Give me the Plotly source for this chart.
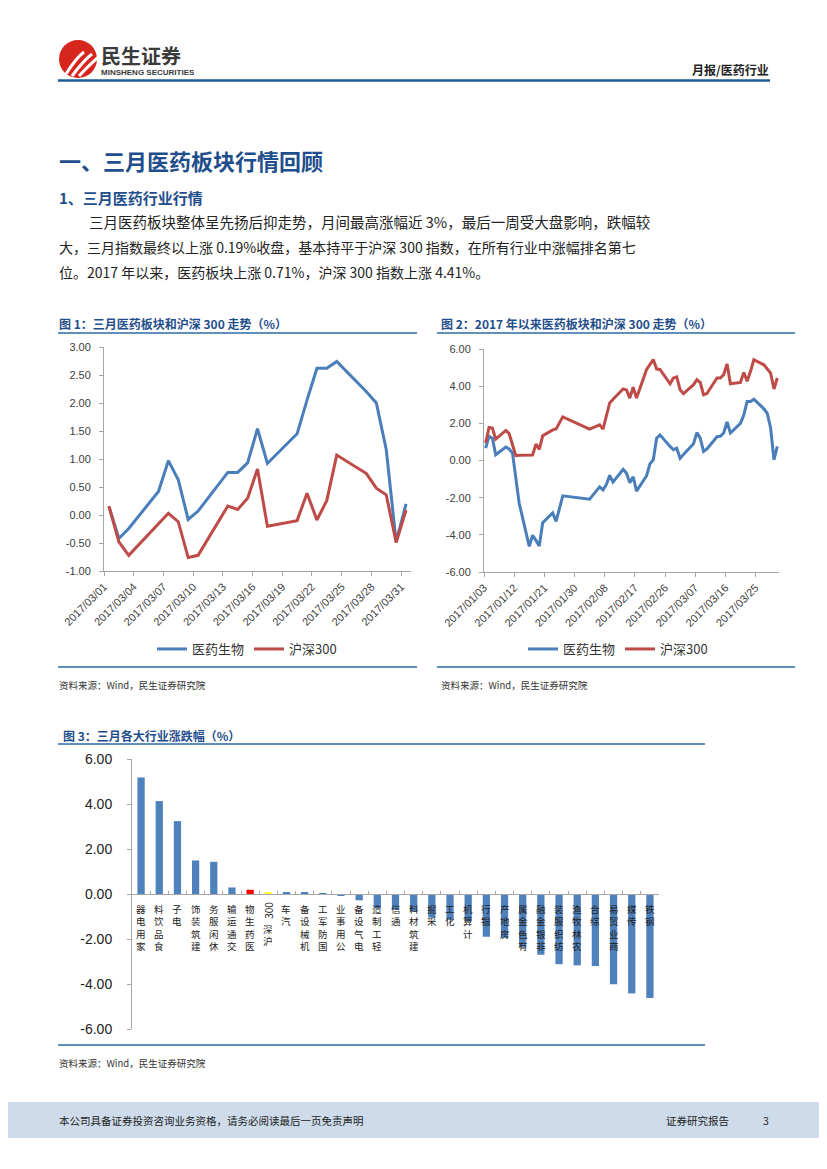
import plotly.graph_objects as go
import pandas as pd

W, H = 827, 1169
OFF = 8  # page body margin of the hosting html


def px(x):
    return (x - OFF) / W


def py(y):
    return 1 - (y - OFF) / H


CJK = "Noto Sans CJK SC"
BLUE_LINE = "#4A7EBB"
RED_LINE = "#BE4B48"
BAR_BLUE = "#4F81BD"
NAVY = "#1F4E8C"
RULE = "#2B6AA6"
AXIS = "#A6A6A6"

# ---------------- data ----------------
mar_dates = ["2017-03-01", "2017-03-02", "2017-03-03", "2017-03-06", "2017-03-07",
             "2017-03-08", "2017-03-09", "2017-03-10", "2017-03-13", "2017-03-14",
             "2017-03-15", "2017-03-16", "2017-03-17", "2017-03-20", "2017-03-21",
             "2017-03-22", "2017-03-23", "2017-03-24", "2017-03-27", "2017-03-28",
             "2017-03-29", "2017-03-30", "2017-03-31"]
mar_pharma = [0.15, -0.42, -0.24, 0.42, 0.97, 0.63, -0.08, 0.07, 0.76, 0.76,
              0.93, 1.54, 0.92, 1.45, 2.05, 2.62, 2.62, 2.74, 2.20, 2.00,
              1.17, -0.48, 0.20]
mar_hs300 = [0.16, -0.48, -0.72, -0.17, 0.03, -0.12, -0.76, -0.72, 0.16, 0.10,
             0.30, 0.82, -0.20, -0.10, 0.39, -0.09, 0.26, 1.07, 0.74, 0.48,
             0.36, -0.49, 0.09]

ytd_dates = ["2017-01-03", "2017-01-04", "2017-01-05", "2017-01-06", "2017-01-09",
             "2017-01-10", "2017-01-11", "2017-01-12", "2017-01-13", "2017-01-16",
             "2017-01-17", "2017-01-18", "2017-01-19", "2017-01-20", "2017-01-23",
             "2017-01-24", "2017-01-25", "2017-01-26",
             "2017-02-03", "2017-02-06", "2017-02-07", "2017-02-08", "2017-02-09",
             "2017-02-10", "2017-02-13", "2017-02-14", "2017-02-15", "2017-02-16",
             "2017-02-17", "2017-02-20", "2017-02-21", "2017-02-22", "2017-02-23",
             "2017-02-24", "2017-02-27", "2017-02-28",
             "2017-03-01", "2017-03-02", "2017-03-03", "2017-03-06", "2017-03-07",
             "2017-03-08", "2017-03-09", "2017-03-10", "2017-03-13", "2017-03-14",
             "2017-03-15", "2017-03-16", "2017-03-17", "2017-03-20", "2017-03-21",
             "2017-03-22", "2017-03-23", "2017-03-24", "2017-03-27", "2017-03-28",
             "2017-03-29", "2017-03-30", "2017-03-31"]
ytd_pharma = [0.67, 1.30, 1.20, 0.31, 0.72, 0.62, 0.40, -0.95, -2.30, -4.62,
              -4.02, -4.30, -4.60, -3.35, -2.82, -3.28, -2.55, -1.90,
              -2.08, -1.42, -1.58, -1.30, -0.80, -1.16, -0.48, -0.68, -1.20, -0.88,
              -1.65, -0.82, -0.18, 0.04, 1.20, 1.38, 0.76, 0.58,
              0.66, 0.12, 0.32, 0.90, 1.50, 1.20, 0.49, 0.62, 1.28, 1.30,
              1.48, 2.07, 1.48, 2.00, 2.45, 3.18, 3.18, 3.30, 2.78, 2.54,
              1.75, 0.04, 0.76]
ytd_hs300 = [0.94, 1.78, 1.75, 1.15, 1.62, 1.45, 0.85, 0.26, 0.28, 0.28,
             0.30, 0.88, 0.60, 1.33, 1.65, 1.70, 2.00, 2.35,
             1.69, 1.92, 1.69, 2.40, 3.10, 3.30, 3.85, 3.80, 3.36, 3.95,
             3.36, 4.90, 5.20, 5.43, 4.92, 4.90, 4.13, 4.44,
             4.50, 3.80, 3.60, 4.08, 4.35, 4.20, 3.54, 3.60, 4.44, 4.44,
             4.62, 5.20, 4.13, 4.20, 4.74, 4.26, 4.80, 5.43, 5.15, 4.90,
             4.70, 3.85, 4.44]

industries = ["家用电器", "食品饮料", "电子", "建筑装饰", "休闲服务", "交通运输",
              "医药生物", "沪深300", "汽车", "机械设备", "国防军工", "公用事业",
              "电气设备", "轻工制造", "通信", "建筑材料", "采掘", "化工", "计算机",
              "银行", "房地产", "有色金属", "非银金融", "纺织服装", "农林牧渔",
              "综合", "商业贸易", "传媒", "钢铁"]
ind_change = [5.18, 4.13, 3.24, 1.49, 1.43, 0.29, 0.19, 0.09, 0.08, 0.06,
              0.02, -0.09, -0.28, -0.62, -0.70, -0.78, -1.05, -1.15, -1.20,
              -1.90, -1.95, -2.35, -2.70, -3.12, -3.17, -3.20, -4.01, -4.42, -4.62]
highlight = {"医药生物": "#FF0000", "沪深300": "#FFFF33"}

legend_names = ["医药生物", "沪深300"]
y1_ticks = [-1.0, -0.5, 0.0, 0.5, 1.0, 1.5, 2.0, 2.5, 3.0]
y2_ticks = [-6, -4, -2, 0, 2, 4, 6]
y3_ticks = [-6, -4, -2, 0, 2, 4, 6]

# ---------------- figure ----------------
fig = go.Figure()

fig.add_trace(go.Scatter(x=mar_dates, y=mar_pharma, name=legend_names[0], mode="lines",
                         line=dict(color=BLUE_LINE, width=3), xaxis="x", yaxis="y",
                         legend="legend"))
fig.add_trace(go.Scatter(x=mar_dates, y=mar_hs300, name=legend_names[1], mode="lines",
                         line=dict(color=RED_LINE, width=3), xaxis="x", yaxis="y",
                         legend="legend"))
fig.add_trace(go.Scatter(x=ytd_dates, y=ytd_pharma, name=legend_names[0], mode="lines",
                         line=dict(color=BLUE_LINE, width=3), xaxis="x2", yaxis="y2",
                         legend="legend2"))
fig.add_trace(go.Scatter(x=ytd_dates, y=ytd_hs300, name=legend_names[1], mode="lines",
                         line=dict(color=RED_LINE, width=3), xaxis="x2", yaxis="y2",
                         legend="legend2"))

bar_colors = [highlight.get(n, BAR_BLUE) for n in industries]
fig.add_trace(go.Bar(x=industries, y=ind_change, marker=dict(color=bar_colors, line=dict(width=0)),
                     width=0.4, xaxis="x3", yaxis="y3", showlegend=False))


def day_ticks(start, end, step):
    d = pd.date_range(start, end, freq=f"{step}D")
    vals = [(t - pd.Timedelta(hours=12)).strftime("%Y-%m-%d %H:%M") for t in d]
    texts = [t.strftime("%Y/%m/%d") for t in d]
    return vals, texts


t1v, t1t = day_ticks("2017-03-01", "2017-03-31", 3)
t2v, t2t = day_ticks("2017-01-03", "2017-03-31", 9)

tickfont = dict(family="Liberation Sans", size=11, color="#404040")

common_x = dict(showgrid=False, zeroline=False, showline=True, linecolor=AXIS, linewidth=1,
                ticks="outside", ticklen=4, tickcolor=AXIS, tickangle=-45, tickfont=tickfont,
                automargin=False)
common_y = dict(showgrid=False, zeroline=False, showline=True, linecolor=AXIS, linewidth=1,
                ticks="outside", ticklen=4, tickcolor=AXIS, tickfont=tickfont,
                ticklabelstandoff=6, automargin=False)

# bar chart domain
y3_dom = [py(1029), py(759)]
zero_pos = y3_dom[0] + (y3_dom[1] - y3_dom[0]) * (0 - (-6)) / 12

fig.update_layout(
    width=W, height=H, autosize=False,
    margin=dict(l=0, r=0, t=0, b=0, pad=0, autoexpand=False),
    paper_bgcolor="white", plot_bgcolor="rgba(0,0,0,0)",
    font=dict(family=CJK, color="#333333"),
    xaxis=dict(domain=[px(104), px(411)], anchor="y", type="date",
               range=["2017-02-28 12:00", "2017-03-31 12:00"],
               tickvals=t1v, ticktext=t1t, **common_x),
    yaxis=dict(domain=[py(571), py(347)], anchor="x", range=[-1, 3],
               tickvals=y1_ticks, ticktext=[f"{v:.2f}" for v in y1_ticks], **common_y),
    xaxis2=dict(domain=[px(484), px(779)], anchor="y2", type="date",
                range=["2017-01-02 12:00", "2017-03-31 12:00"],
                tickvals=t2v, ticktext=t2t, **common_x),
    yaxis2=dict(domain=[py(572), py(349)], anchor="x2", range=[-6, 6],
                tickvals=y2_ticks, ticktext=[f"{v:.2f}" for v in y2_ticks], **common_y),
    xaxis3=dict(domain=[px(132), px(659)], anchor="free", position=zero_pos,
                type="category", range=[-0.5, len(industries) - 0.5],
                showgrid=False, zeroline=False, showline=True, linecolor=AXIS,
                ticks="inside", ticklen=3, tickcolor=AXIS, tickson="boundaries",
                showticklabels=False, automargin=False),
    yaxis3=dict(domain=y3_dom, anchor="x3", range=[-6, 6],
                tickvals=y3_ticks, ticktext=[f"{v:.2f}" for v in y3_ticks],
                showgrid=False, zeroline=False, showline=True, linecolor=AXIS,
                ticks="outside", ticklen=4, tickcolor=AXIS, ticklabelstandoff=12,
                automargin=False,
                tickfont=dict(family="Liberation Sans", size=14, color="#222222")),
    legend=dict(x=px(247), y=py(649), xanchor="center", yanchor="middle",
                orientation="h", bgcolor="rgba(0,0,0,0)",
                font=dict(family=CJK, size=13, color="#333333")),
    legend2=dict(x=px(618), y=py(649), xanchor="center", yanchor="middle",
                 orientation="h", bgcolor="rgba(0,0,0,0)",
                 font=dict(family=CJK, size=13, color="#333333")),
)

shapes = []
annos = []


def hline(x0, x1, y, color=RULE, width=1.5):
    shapes.append(dict(type="line", xref="paper", yref="paper", x0=px(x0), x1=px(x1),
                       y0=py(y), y1=py(y), line=dict(color=color, width=width)))


def txt(x, y, s, size, color="#333333", weight="normal", xanchor="left", family=CJK):
    annos.append(dict(xref="paper", yref="paper", x=px(x), y=py(y), text=s, showarrow=False,
                      xanchor=xanchor, yanchor="middle", borderpad=0,
                      font=dict(family=family, size=size, color=color, weight=weight)))


# header
shapes.append(dict(type="circle", xref="paper", yref="paper", x0=px(59), x1=px(97),
                   y0=py(78), y1=py(40), fillcolor="#D7261E", line=dict(width=0)))
for (a, b, c, d) in [(66, 74, 76, 52), (72, 76, 84, 54), (79, 76, 92, 56)]:
    shapes.append(dict(type="path", xref="paper", yref="paper",
                       path=f"M {px(a)} {py(b)} Q {px(c)} {py(d+6)} {px(c+8)} {py(d)}",
                       line=dict(color="white", width=3)))
txt(100, 55, "民生证券", 20, "#3A3A3A", "bold")
txt(100, 72.5, "MINSHENG SECURITIES", 8, "#3A3A3A", "bold", family="Liberation Sans")
txt(770, 69, "月报/医药行业", 12, "#222222", "bold", xanchor="right")
hline(58, 770, 80.5, color="#1F5C99", width=2.5)

# section texts
txt(58, 160, "一、三月医药板块行情回顾", 22, NAVY, "bold")
txt(58, 197, "1、三月医药行业行情", 15, NAVY, "bold")
txt(88, 222, "三月医药板块整体呈先扬后抑走势，月间最高涨幅近 3%，最后一周受大盘影响，跌幅较", 14.5, "#222222")
txt(58, 247, "大，三月指数最终以上涨 0.19%收盘，基本持平于沪深 300 指数，在所有行业中涨幅排名第七", 14, "#222222")
txt(58, 272, "位。2017 年以来，医药板块上涨 0.71%，沪深 300 指数上涨 4.41%。", 14, "#222222")

# chart titles / rules / sources
txt(58, 323, "图 1：三月医药板块和沪深 300 走势（%）", 12, NAVY, "bold")
hline(58, 417, 333)
txt(440, 323, "图 2：2017 年以来医药板块和沪深 300 走势（%）", 12, NAVY, "bold")
hline(437, 795, 333)
hline(58, 417, 667)
hline(437, 795, 667)
txt(58, 685, "资料来源：Wind，民生证券研究院", 9.5, "#333333")
txt(440, 685, "资料来源：Wind，民生证券研究院", 9.5, "#333333")

txt(62, 735, "图 3：三月各大行业涨跌幅（%）", 12, NAVY, "bold")
hline(58, 705, 744)
hline(58, 705, 1045)
txt(58, 1063, "资料来源：Wind，民生证券研究院", 9.5, "#333333")

# footer
shapes.append(dict(type="rect", xref="paper", yref="paper", x0=px(0), x1=px(835),
                   y0=py(1138), y1=py(1102),
                   fillcolor="#CDDBEA", line=dict(width=0), layer="below"))
txt(58, 1120, "本公司具备证券投资咨询业务资格，请务必阅读最后一页免责声明", 10.5, "#222222")
txt(665, 1120, "证券研究报告", 10.5, "#222222")
txt(762, 1120, "3", 10.5, "#222222")

# bar category labels: upright CJK characters stacked, reading bottom-to-top
LBL = 9.5
for name in industries:
    segs = []
    cur = ""
    cur_cjk = None
    for ch in name:
        is_cjk = ord(ch) > 0x2E80
        if cur and is_cjk != cur_cjk:
            segs.append((cur, cur_cjk))
            cur = ""
        cur += ch
        cur_cjk = is_cjk
    if cur:
        segs.append((cur, cur_cjk))
    shift = -6
    for seg, is_cjk in reversed(segs):
        if is_cjk:
            annos.append(dict(xref="x3", yref="y3", x=name, y=0, showarrow=False,
                              text="<br>".join(reversed(seg)), xanchor="center", yanchor="top",
                              yshift=shift, font=dict(family=CJK, size=LBL, color="#222222")))
            shift -= len(seg) * LBL * 1.3
        else:
            annos.append(dict(xref="x3", yref="y3", x=name, y=0, showarrow=False,
                              text=seg, textangle=-90, xanchor="center", yanchor="top",
                              yshift=shift, font=dict(family=CJK, size=LBL + 0.5, color="#222222")))
            shift -= len(seg) * LBL * 0.62 + 2

fig.update_layout(shapes=shapes, annotations=annos)

fig.write_html("out.html")
